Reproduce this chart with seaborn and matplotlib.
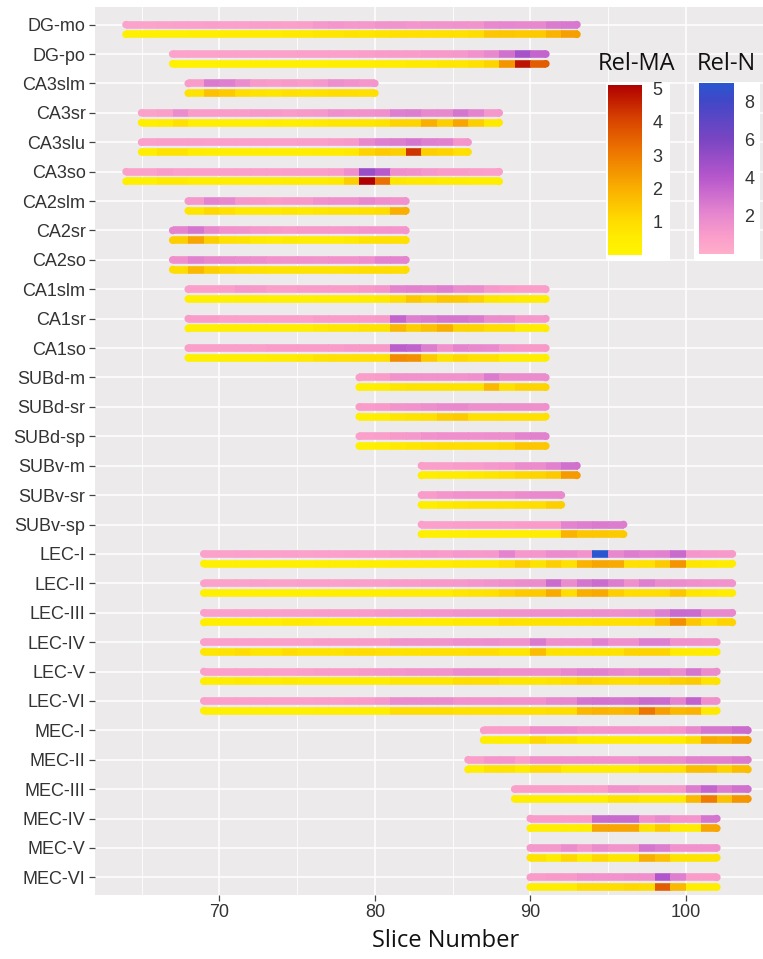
import matplotlib
matplotlib.use("Agg")
import numpy as np
import pandas as pd
import matplotlib.pyplot as plt
import seaborn as sns
from matplotlib.collections import LineCollection
from matplotlib.colors import LinearSegmentedColormap, Normalize
from matplotlib.cm import ScalarMappable
from matplotlib.patches import Rectangle

# ---------------------------------------------------------------- data
regions = ["DG-mo", "DG-po", "CA3slm", "CA3sr", "CA3slu", "CA3so",
           "CA2slm", "CA2sr", "CA2so", "CA1slm", "CA1sr", "CA1so",
           "SUBd-m", "SUBd-sr", "SUBd-sp", "SUBv-m", "SUBv-sr", "SUBv-sp",
           "LEC-I", "LEC-II", "LEC-III", "LEC-IV", "LEC-V", "LEC-VI",
           "MEC-I", "MEC-II", "MEC-III", "MEC-IV", "MEC-V", "MEC-VI"]

# first slice in which each region appears
first_slice = [64, 67, 68, 65, 65, 64,
               68, 67, 67, 68, 68, 68,
               79, 79, 79, 83, 83, 83,
               69, 69, 69, 69, 69, 69,
               87, 86, 89, 90, 90, 90]

# relative neuron density per slice
rel_n = {
    "DG-mo": [0.6, 0.6, 0.7, 0.8, 0.8, 0.9, 0.8, 0.8, 0.9, 0.9, 0.8, 0.9, 1.2, 1.3, 1.2, 1.2,
              1.4, 1.4, 1.3, 1.4, 1.4, 1.5, 1.4, 2.0, 2.1, 2.0, 2.0, 2.6, 2.7],
    "DG-po": [0.6, 0.6, 0.6, 0.7, 0.7, 0.7, 0.7, 0.7, 0.8, 0.8, 0.8, 0.8, 0.9,
              1.0, 1.0, 1.0, 1.1, 1.1, 1.2, 1.5, 2.0, 3.0, 4.6, 3.5],
    "CA3slm": [1.0, 2.6, 2.4, 1.8, 1.1, 1.0, 1.1, 1.0, 1.2, 1.7, 1.5, 1.3],
    "CA3sr": [0.7, 0.9, 1.8, 1.0, 1.0, 1.0, 1.0, 1.1, 1.1, 1.0, 1.1, 1.2, 1.6, 1.5, 1.5, 1.6,
              2.4, 2.5, 2.0, 2.0, 2.8, 2.2, 1.2],
    "CA3slu": [0.8, 0.9, 0.9, 0.9, 0.8, 0.8, 0.8, 0.8, 0.8, 0.8, 0.9, 0.9, 1.0, 1.1,
               2.0, 2.4, 2.5, 2.8, 2.4, 2.3, 1.3],
    "CA3so": [0.7, 0.7, 1.0, 0.8, 0.8, 0.8, 0.8, 0.8, 0.8, 0.8, 0.9, 0.9, 0.9, 1.0,
              1.6, 5.0, 4.0, 1.6, 1.5, 1.2, 1.0, 1.0, 0.9, 0.8],
    "CA2slm": [1.2, 2.2, 2.0, 1.2, 1.1, 1.0, 1.1, 1.1, 1.5, 1.6, 1.6, 2.0, 1.6, 1.5],
    "CA2sr": [2.2, 2.8, 2.0, 1.5, 1.4, 1.2, 1.1, 1.0, 1.1, 1.1, 1.1, 1.2, 1.3, 1.3, 1.3],
    "CA2so": [1.6, 2.3, 2.0, 1.9, 1.8, 1.7, 1.5, 1.4, 1.5, 1.4, 1.5, 1.5, 1.6, 2.2, 2.2],
    "CA1slm": [0.8, 0.8, 0.9, 1.2, 1.1, 0.9, 0.9, 1.0, 1.0, 1.0, 1.0, 1.1, 1.3,
               2.2, 2.3, 2.2, 2.4, 1.8, 1.8, 1.2, 1.0, 0.9, 0.9],
    "CA1sr": [1.0, 1.0, 0.8, 0.8, 0.8, 0.8, 0.8, 0.8, 1.0, 1.0, 1.0, 1.0, 1.1,
              3.5, 2.4, 2.6, 2.8, 2.8, 2.6, 1.8, 1.8, 1.2, 1.2],
    "CA1so": [0.9, 0.9, 0.9, 0.9, 0.9, 1.0, 1.0, 1.0, 1.0, 1.0, 1.1, 1.1, 1.1,
              3.8, 3.6, 2.5, 1.5, 2.2, 2.0, 1.9, 1.2, 1.1, 1.1],
    "SUBd-m": [0.9, 1.0, 1.5, 1.5, 1.5, 1.5, 1.5, 1.6, 2.6, 1.8, 1.8, 1.8],
    "SUBd-sr": [1.0, 1.1, 1.4, 1.5, 1.7, 1.9, 2.0, 1.7, 1.7, 1.7, 1.7, 1.6],
    "SUBd-sp": [0.8, 0.9, 1.1, 1.2, 1.5, 1.6, 1.6, 1.6, 1.7, 1.7, 2.2, 2.3],
    "SUBv-m": [0.9, 0.9, 1.0, 1.0, 1.2, 1.3, 1.8, 1.8, 2.3, 3.0],
    "SUBv-sr": [1.0, 1.3, 1.5, 1.5, 1.5, 1.5, 1.8, 1.9, 1.9],
    "SUBv-sp": [0.8, 0.8, 0.9, 0.9, 0.9, 0.9, 1.0, 1.0, 1.0, 2.2, 2.4, 2.6, 2.5],
    "LEC-I": [0.7, 0.7, 0.8, 0.7, 0.7, 0.8, 0.7, 0.8, 0.8, 0.9, 0.8, 0.9,
              1.0, 1.0, 1.1, 1.0, 1.2, 1.1, 1.2,
              2.2, 1.2, 1.3, 1.8, 1.8, 1.4, 9.0, 2.0, 2.5, 2.2, 2.3, 3.3, 1.3, 1.2, 1.1],
    "LEC-II": [0.7, 0.7, 0.7, 0.8, 0.7, 0.7, 0.8, 0.8, 0.8, 0.9, 0.8, 0.9,
               1.0, 1.0, 1.1, 1.1, 1.2, 1.3, 1.4,
               1.6, 1.8, 1.8, 3.2, 1.8, 2.8, 3.2, 2.5, 1.6, 2.4, 1.8, 1.8, 1.6, 1.5, 1.4],
    "LEC-III": [0.8, 0.8, 0.8, 0.8, 0.8, 0.9, 0.9, 1.0, 1.0, 1.0, 1.0, 1.1,
                1.2, 1.2, 1.3, 1.3, 1.4, 1.4, 1.4,
                1.5, 1.5, 1.6, 1.6, 1.6, 1.6, 1.7, 1.6, 1.7, 1.8, 2.4, 3.3, 3.2, 2.0, 2.0],
    "LEC-IV": [0.8, 0.8, 0.8, 0.8, 0.8, 0.8, 0.8, 1.0, 1.0, 1.0, 1.0, 1.0,
               1.4, 1.4, 1.4, 1.4, 1.6, 1.6, 1.7,
               1.5, 1.5, 2.6, 1.6, 1.6, 1.6, 2.3, 1.6, 1.6, 2.4, 2.4, 1.5, 1.5, 1.4],
    "LEC-V": [0.8, 0.8, 0.8, 0.8, 0.8, 0.8, 0.9, 1.0, 1.0, 1.0, 1.1, 1.2,
              1.3, 1.4, 1.4, 1.4, 1.8, 1.8, 1.8,
              1.6, 1.6, 1.6, 1.6, 2.0, 2.3, 2.3, 2.0, 1.8, 2.2, 2.2, 1.8, 2.8, 1.8],
    "LEC-VI": [0.8, 0.8, 0.8, 0.8, 0.8, 0.8, 0.8, 0.9, 0.9, 1.0, 1.0, 1.2,
               1.8, 1.8, 1.8, 1.8, 1.5, 1.5, 1.5,
               1.5, 1.5, 1.5, 2.0, 2.0, 2.8, 2.9, 2.8, 2.9, 3.3, 3.2, 2.2, 3.6, 1.6],
    "MEC-I": [0.9, 0.9, 0.9, 1.6, 1.6, 1.6, 1.3, 1.3, 1.3, 1.3, 1.2, 1.2, 1.3, 2.0, 2.8, 2.8, 3.2],
    "MEC-II": [0.9, 1.3, 1.3, 0.8, 1.5, 1.5, 1.5, 1.5, 1.5, 1.5, 1.5, 1.8, 1.8, 1.8, 2.3, 2.3, 2.3, 2.6],
    "MEC-III": [0.9, 0.9, 0.9, 0.9, 0.9, 0.9, 1.5, 1.5, 1.2, 1.2, 1.2, 2.5, 3.5, 2.5, 3.0],
    "MEC-IV": [1.0, 1.0, 1.0, 1.0, 3.3, 3.3, 3.3, 1.5, 2.0, 1.3, 1.3, 2.8],
    "MEC-V": [1.2, 1.2, 1.8, 1.2, 1.8, 1.4, 1.4, 2.8, 2.5, 1.5, 1.5, 1.5],
    "MEC-VI": [1.0, 1.1, 1.1, 1.5, 1.5, 1.5, 1.6, 1.6, 4.2, 2.4, 1.0, 1.0],
}

# relative mean activity per slice
rel_ma = {
    "DG-mo": [0.3, 0.3, 0.3, 0.3, 0.4, 0.4, 0.5, 0.5, 0.5, 0.5, 0.6, 0.6, 0.7, 0.7, 0.8, 0.7,
              0.8, 0.9, 0.9, 0.9, 0.9, 0.9, 1.0, 1.5, 1.5, 1.4, 1.4, 1.9, 2.3],
    "DG-po": [0.2, 0.2, 0.2, 0.3, 0.3, 0.3, 0.3, 0.3, 0.3, 0.3, 0.4, 0.4, 0.4,
              0.5, 0.5, 0.6, 0.6, 0.7, 0.7, 0.9, 1.2, 2.5, 4.8, 3.6],
    "CA3slm": [0.8, 1.6, 1.4, 1.0, 0.8, 0.7, 0.9, 0.8, 0.9, 1.0, 1.0, 0.9],
    "CA3sr": [0.4, 0.5, 0.9, 0.4, 0.4, 0.4, 0.4, 0.4, 0.5, 0.4, 0.5, 0.6, 0.7, 0.7, 0.7, 0.8,
              1.2, 1.2, 2.0, 1.3, 2.2, 1.3, 0.6],
    "CA3slu": [0.4, 0.8, 0.8, 0.5, 0.4, 0.4, 0.4, 0.4, 0.4, 0.4, 0.4, 0.5, 0.5, 0.6,
               1.2, 1.4, 1.3, 4.3, 1.3, 1.2, 0.9],
    "CA3so": [0.3, 0.3, 0.6, 0.6, 0.4, 0.4, 0.4, 0.4, 0.4, 0.4, 0.5, 0.5, 0.5, 0.6,
              1.3, 5.1, 3.2, 0.7, 0.6, 0.6, 0.5, 0.5, 0.4, 0.4],
    "CA2slm": [0.7, 1.1, 0.9, 0.6, 0.6, 0.6, 0.7, 0.6, 0.7, 0.8, 0.8, 0.9, 1.0, 2.0],
    "CA2sr": [1.3, 2.2, 1.3, 0.9, 0.8, 0.6, 0.5, 0.6, 0.5, 0.5, 0.5, 0.6, 0.8, 0.9, 0.9],
    "CA2so": [1.0, 1.8, 1.3, 1.1, 1.0, 0.9, 0.8, 0.8, 0.8, 0.8, 0.8, 0.9, 1.0, 1.0, 1.0],
    "CA1slm": [0.3, 0.3, 0.3, 0.4, 0.4, 0.3, 0.3, 0.3, 0.4, 0.4, 0.4, 0.5, 0.6,
               1.0, 1.5, 1.2, 1.5, 1.4, 1.2, 0.7, 0.6, 0.5, 0.5],
    "CA1sr": [0.3, 0.3, 0.4, 0.4, 0.4, 0.4, 0.4, 0.4, 0.6, 0.7, 0.7, 0.8, 0.8,
              1.8, 1.3, 1.6, 2.0, 1.2, 1.2, 1.0, 1.0, 0.5, 0.5],
    "CA1so": [0.3, 0.3, 0.4, 0.4, 0.4, 0.5, 0.5, 0.6, 0.8, 0.9, 0.9, 0.9, 0.9,
              2.7, 2.6, 1.4, 0.8, 1.1, 0.9, 0.9, 0.4, 0.4, 0.4],
    "SUBd-m": [0.3, 0.4, 0.7, 0.8, 0.8, 0.8, 0.8, 0.8, 1.8, 0.9, 1.2, 1.2],
    "SUBd-sr": [0.3, 0.4, 0.7, 0.8, 0.9, 1.3, 1.4, 0.9, 0.9, 0.9, 0.9, 0.9],
    "SUBd-sp": [0.3, 0.4, 0.6, 0.7, 0.9, 1.0, 1.0, 1.0, 1.0, 1.1, 1.5, 1.5],
    "SUBv-m": [0.4, 0.5, 0.5, 0.6, 0.7, 0.9, 1.1, 1.2, 1.4, 2.4],
    "SUBv-sr": [0.4, 0.6, 0.7, 0.8, 0.8, 0.8, 0.9, 1.0, 1.3],
    "SUBv-sp": [0.3, 0.3, 0.3, 0.4, 0.4, 0.4, 0.4, 0.5, 0.5, 1.9, 1.5, 1.5, 1.4],
    "LEC-I": [0.3, 0.3, 0.3, 0.3, 0.3, 0.3, 0.3, 0.4, 0.4, 0.4, 0.4, 0.4,
              0.5, 0.5, 0.5, 0.5, 0.6, 0.6, 0.6,
              0.9, 1.3, 0.8, 1.3, 0.9, 1.9, 2.2, 2.1, 0.9, 0.9, 1.4, 2.5, 0.7, 0.6, 0.5],
    "LEC-II": [0.3, 0.3, 0.3, 0.3, 0.3, 0.3, 0.3, 0.4, 0.4, 0.4, 0.4, 0.4,
               0.5, 0.5, 0.5, 0.5, 0.7, 0.8, 0.9,
               1.2, 1.4, 1.4, 2.1, 1.0, 2.0, 2.1, 1.3, 1.0, 1.0, 1.0, 1.5, 0.7, 0.6, 0.5],
    "LEC-III": [0.4, 0.4, 0.4, 0.4, 0.4, 0.6, 0.6, 0.5, 0.4, 0.4, 0.4, 0.4,
                0.5, 0.5, 0.5, 0.5, 0.6, 0.6, 0.6,
                0.9, 0.8, 0.8, 0.8, 0.8, 0.8, 0.9, 0.9, 0.9, 1.0, 1.6, 2.6, 1.5, 0.9, 1.2],
    "LEC-IV": [0.7, 0.8, 1.0, 0.7, 0.7, 1.0, 0.8, 0.8, 0.8, 1.0, 1.0, 0.9,
               0.8, 0.8, 0.9, 0.9, 0.9, 1.0, 1.0,
               0.7, 0.7, 1.7, 0.8, 0.8, 0.8, 0.8, 0.8, 1.2, 1.2, 1.2, 0.5, 0.5, 0.5],
    "LEC-V": [0.4, 0.5, 0.6, 0.5, 0.5, 0.6, 0.5, 0.5, 0.5, 0.5, 0.5, 0.5,
              0.7, 0.7, 0.7, 0.7, 1.0, 1.0, 1.0,
              0.7, 0.7, 0.7, 0.8, 1.0, 1.2, 1.1, 1.0, 1.0, 1.1, 1.1, 1.3, 1.4, 0.8],
    "LEC-VI": [0.3, 0.3, 0.3, 0.3, 0.3, 0.3, 0.3, 0.4, 0.4, 0.4, 0.4, 0.4,
               1.0, 1.0, 1.0, 1.0, 0.9, 0.9, 0.9,
               0.9, 0.9, 0.9, 1.0, 1.0, 1.8, 1.9, 1.8, 1.9, 3.1, 2.3, 1.8, 1.9, 0.6],
    "MEC-I": [0.4, 0.4, 0.4, 1.1, 0.8, 0.8, 0.5, 0.5, 0.5, 0.5, 0.5, 0.5, 0.5, 1.0, 2.1, 2.0, 2.4],
    "MEC-II": [0.4, 0.8, 0.8, 0.5, 1.0, 1.0, 0.5, 0.5, 0.5, 0.5, 0.5, 0.9, 0.9, 0.9, 1.7, 1.7, 1.2, 1.7],
    "MEC-III": [0.4, 0.4, 0.4, 0.4, 0.4, 0.4, 0.8, 0.8, 0.6, 0.6, 0.6, 1.8, 3.0, 1.6, 2.5],
    "MEC-IV": [0.4, 0.4, 0.4, 0.4, 2.2, 2.2, 2.2, 0.8, 1.4, 0.5, 0.5, 2.2],
    "MEC-V": [0.8, 0.5, 1.1, 0.5, 1.1, 0.7, 0.7, 2.0, 1.6, 0.8, 0.8, 0.8],
    "MEC-VI": [0.4, 0.4, 0.5, 1.0, 1.0, 1.0, 1.1, 1.0, 3.6, 1.8, 0.4, 0.4],
}

x_major = [70, 80, 90, 100]
x_minor = [65, 75, 85, 95, 105]
ma_ticks = [1, 2, 3, 4, 5]
n_ticks = [2, 4, 6, 8]

# ---------------------------------------------------------------- scales
ma_cmap = LinearSegmentedColormap.from_list(
    "rel_ma", [(0.0, "#FFF400"), (0.1, "#FFEC00"), (0.2, "#FFDC00"),
               (0.4, "#F9AD00"), (0.6, "#EE7800"), (0.8, "#D84300"),
               (1.0, "#B00000")])
n_cmap = LinearSegmentedColormap.from_list(
    "rel_n", [(0.0, "#FFAECB"), (0.11, "#F99CCA"), (0.24, "#E585CF"),
              (0.45, "#B657CC"), (0.67, "#7A45C2"), (0.9, "#4048C8"),
              (1.0, "#2A56D0")])
ma_norm = Normalize(0, 5.1)
n_norm = Normalize(0, 9)

# ---------------------------------------------------------------- style
sns.set_theme(style="darkgrid", rc={
    "axes.facecolor": "#ECEAEA",
    "grid.color": "white",
    "figure.facecolor": "white",
})
plt.rcParams["font.family"] = ["Liberation Sans", "DejaVu Sans"]

W, H = 763, 959
fig = plt.figure(figsize=(W / 100, H / 100), dpi=100)


def px_rect(x0, y0, x1, y1):
    return [x0 / W, 1 - y1 / H, (x1 - x0) / W, (y1 - y0) / H]


ax = fig.add_axes(px_rect(95, 7, 779, 895))

# long table: one record per region / measure / slice
records = []
for i, reg in enumerate(regions):
    for measure, offset, values in (("Rel-N", 0.0, rel_n[reg]),
                                    ("Rel-MA", 0.33, rel_ma[reg])):
        for k, v in enumerate(values):
            records.append(dict(region=reg, row=i, y=i + offset, measure=measure,
                                slice=first_slice[i] + k, value=v))
df = pd.DataFrame(records)

lw_px = 7.6
lw_pt = lw_px * 72 / 100

scales = {"Rel-N": (n_cmap, n_norm), "Rel-MA": (ma_cmap, ma_norm)}
for measure, (cmap, norm) in scales.items():
    sub = df[df.measure == measure]
    # rounded ends of each strip
    grp = sub.groupby(["region", "y"])
    heads = grp.first().reset_index()
    tails = grp.last().reset_index()
    tails["slice"] = tails["slice"] + 1
    caps = pd.concat([heads, tails], ignore_index=True)
    sns.scatterplot(data=caps, x="slice", y="y", hue="value",
                    palette=cmap, hue_norm=norm, s=lw_pt ** 2, linewidth=0,
                    legend=False, ax=ax, zorder=2)
    # one coloured piece per slice
    segs = [[(s, y), (s + 1.04, y)] for s, y in zip(sub["slice"], sub["y"])]
    lc = LineCollection(segs, colors=cmap(norm(sub["value"].to_numpy())),
                        linewidths=lw_pt, capstyle="butt", zorder=3)
    ax.add_collection(lc)

# ---------------------------------------------------------------- axes
ax.set_xlim(62, 106)
ax.set_ylim(29.6, -0.6)
ax.set_yticks(range(len(regions)))
ax.set_yticklabels(regions)
ax.set_xticks(x_major)
ax.set_xticks(x_minor, minor=True)
ax.set_axisbelow(True)
ax.grid(which="major", color="white", linewidth=1.1)
ax.grid(which="minor", axis="x", color="white", linewidth=0.6)
ax.tick_params(axis="both", which="major", bottom=True, left=True,
               length=4.3, width=0.9, color="#444444", labelsize=13,
               labelcolor="#333333", pad=2.5)
ax.tick_params(which="minor", length=0)
for sp in ax.spines.values():
    sp.set_visible(False)
ax.set_ylabel("")
ax.set_xlabel("Slice Number", fontfamily=["Open Sans", "DejaVu Sans"],
              fontsize=17, color="#111111")
ax.xaxis.set_label_coords((446 - 95) / (779 - 95), -(941 - 895) / (895 - 7))
ax.xaxis.label.set_va("center")

# ---------------------------------------------------------------- legends
for (x0, x1) in [(606, 670), (694, 760)]:
    fig.add_artist(Rectangle((x0 / W, 1 - 261 / H), (x1 - x0) / W, (261 - 82) / H,
                             transform=fig.transFigure, facecolor="white",
                             edgecolor="none", zorder=4))

bars = [
    ("Rel-MA", ma_cmap, ma_norm, ma_ticks, (608, 85, 642, 255), 637),
    ("Rel-N", n_cmap, n_norm, n_ticks, (699, 83, 734, 254), 726),
]
for title, cmap, norm, ticks, box, tx in bars:
    cax = fig.add_axes(px_rect(*box))
    cax.set_zorder(5)
    cb = fig.colorbar(ScalarMappable(norm=norm, cmap=cmap), cax=cax)
    cb.outline.set_visible(False)
    cb.set_ticks(ticks)
    cax.grid(False)
    cax.tick_params(axis="y", which="major", direction="in", left=True, right=True,
                    color="white", length=5.5, width=1.0, labelsize=13,
                    labelcolor="#333333", pad=7.5)
    cax.tick_params(which="minor", length=0)
    fig.text(tx / W, 1 - 64 / H, title, ha="center", va="center",
             fontfamily=["Open Sans", "DejaVu Sans"], fontsize=17,
             color="#111111", zorder=6)

fig.savefig("out.png", dpi=100)
